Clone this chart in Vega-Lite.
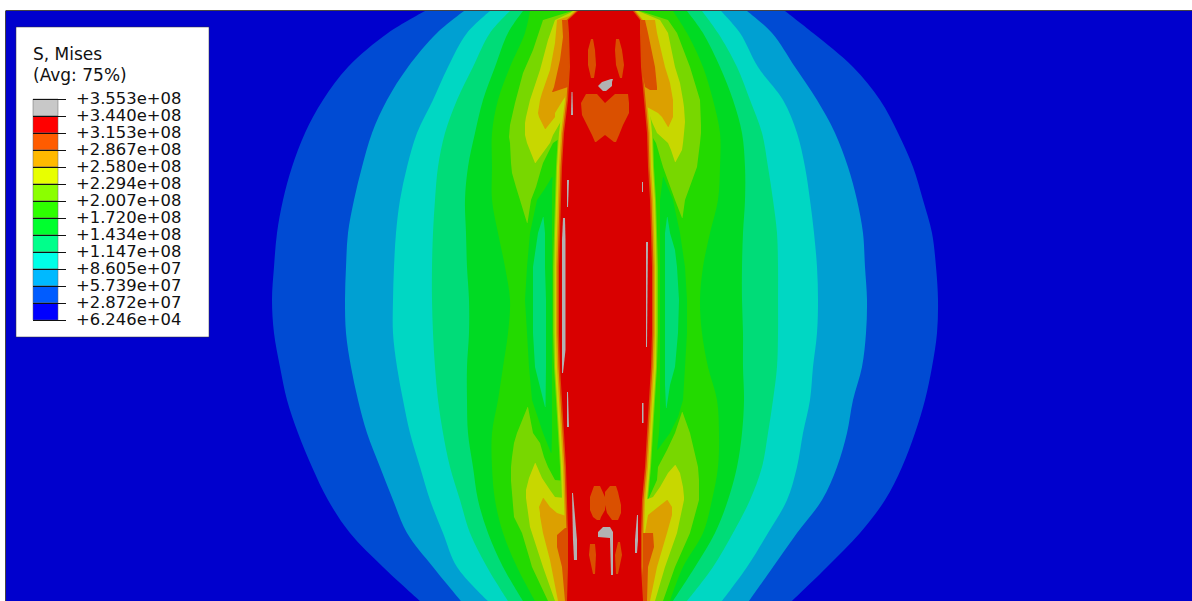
{"$schema":"https://vega.github.io/schema/vega-lite/v6.json","width":1192,"height":601,"padding":0,"autosize":{"type":"none"},"background":"#ffffff","view":{"stroke":null},
"resolve":{"scale":{"color":"independent"}},
"datasets":{"contours":[
{"s":"p","l":"p","y":11,"a":6,"b":1192},{"s":"p","l":"p","y":601,"a":6,"b":1192},
{"s":"c1","l":"1","y":11,"a":425,"b":785},{"s":"c1","l":"1","y":33,"a":388,"b":813},{"s":"c1","l":"1","y":67,"a":348,"b":853},{"s":"c1","l":"1","y":100,"a":323,"b":880},{"s":"c1","l":"1","y":133,"a":305,"b":898},{"s":"c1","l":"1","y":167,"a":292,"b":913},{"s":"c1","l":"1","y":200,"a":283,"b":923},{"s":"c1","l":"1","y":233,"a":277,"b":932},{"s":"c1","l":"1","y":267,"a":274,"b":936},{"s":"c1","l":"1","y":300,"a":272,"b":938},{"s":"c1","l":"1","y":333,"a":274,"b":937},{"s":"c1","l":"1","y":367,"a":280,"b":932},{"s":"c1","l":"1","y":400,"a":287,"b":925},{"s":"c1","l":"1","y":433,"a":298,"b":915},{"s":"c1","l":"1","y":467,"a":312,"b":902},{"s":"c1","l":"1","y":500,"a":328,"b":885},{"s":"c1","l":"1","y":533,"a":350,"b":860},{"s":"c1","l":"1","y":567,"a":383,"b":827},{"s":"c1","l":"1","y":601,"a":420,"b":792},
{"s":"c2","l":"2","y":11,"a":464,"b":747},{"s":"c2","l":"2","y":33,"a":437,"b":772},{"s":"c2","l":"2","y":67,"a":408,"b":795},{"s":"c2","l":"2","y":100,"a":387,"b":817},{"s":"c2","l":"2","y":133,"a":372,"b":835},{"s":"c2","l":"2","y":167,"a":362,"b":848},{"s":"c2","l":"2","y":200,"a":354,"b":857},{"s":"c2","l":"2","y":233,"a":348,"b":863},{"s":"c2","l":"2","y":267,"a":346,"b":865},{"s":"c2","l":"2","y":300,"a":345,"b":867},{"s":"c2","l":"2","y":333,"a":346,"b":866},{"s":"c2","l":"2","y":367,"a":351,"b":862},{"s":"c2","l":"2","y":400,"a":358,"b":853},{"s":"c2","l":"2","y":433,"a":367,"b":847},{"s":"c2","l":"2","y":467,"a":380,"b":837},{"s":"c2","l":"2","y":500,"a":393,"b":822},{"s":"c2","l":"2","y":533,"a":407,"b":797},{"s":"c2","l":"2","y":567,"a":433,"b":773},{"s":"c2","l":"2","y":601,"a":461,"b":749},
{"s":"c3","l":"3","y":11,"a":490,"b":721},{"s":"c3","l":"3","y":33,"a":467,"b":740},{"s":"c3","l":"3","y":67,"a":448,"b":758},{"s":"c3","l":"3","y":100,"a":433,"b":783},{"s":"c3","l":"3","y":133,"a":417,"b":797},{"s":"c3","l":"3","y":167,"a":407,"b":805},{"s":"c3","l":"3","y":200,"a":400,"b":810},{"s":"c3","l":"3","y":233,"a":396,"b":814},{"s":"c3","l":"3","y":267,"a":394,"b":817},{"s":"c3","l":"3","y":300,"a":393,"b":818},{"s":"c3","l":"3","y":333,"a":393,"b":817},{"s":"c3","l":"3","y":367,"a":397,"b":813},{"s":"c3","l":"3","y":400,"a":403,"b":810},{"s":"c3","l":"3","y":433,"a":410,"b":803},{"s":"c3","l":"3","y":467,"a":420,"b":797},{"s":"c3","l":"3","y":500,"a":430,"b":787},{"s":"c3","l":"3","y":533,"a":443,"b":768},{"s":"c3","l":"3","y":567,"a":457,"b":747},{"s":"c3","l":"3","y":601,"a":488,"b":722},
{"s":"c4","l":"4","y":11,"a":510,"b":702},{"s":"c4","l":"4","y":33,"a":490,"b":718},{"s":"c4","l":"4","y":67,"a":473,"b":737},{"s":"c4","l":"4","y":100,"a":457,"b":750},{"s":"c4","l":"4","y":133,"a":445,"b":762},{"s":"c4","l":"4","y":167,"a":438,"b":768},{"s":"c4","l":"4","y":200,"a":435,"b":773},{"s":"c4","l":"4","y":233,"a":433,"b":777},{"s":"c4","l":"4","y":267,"a":432,"b":778},{"s":"c4","l":"4","y":300,"a":432,"b":778},{"s":"c4","l":"4","y":333,"a":433,"b":778},{"s":"c4","l":"4","y":367,"a":435,"b":777},{"s":"c4","l":"4","y":400,"a":438,"b":773},{"s":"c4","l":"4","y":433,"a":443,"b":768},{"s":"c4","l":"4","y":467,"a":450,"b":762},{"s":"c4","l":"4","y":500,"a":460,"b":750},{"s":"c4","l":"4","y":533,"a":470,"b":733},{"s":"c4","l":"4","y":567,"a":487,"b":713},{"s":"c4","l":"4","y":601,"a":508,"b":687},
{"s":"c5","l":"5","y":11,"a":523,"b":687},{"s":"c5","l":"5","y":33,"a":508,"b":703},{"s":"c5","l":"5","y":67,"a":495,"b":720},{"s":"c5","l":"5","y":100,"a":483,"b":733},{"s":"c5","l":"5","y":133,"a":475,"b":742},{"s":"c5","l":"5","y":167,"a":468,"b":745},{"s":"c5","l":"5","y":200,"a":465,"b":745},{"s":"c5","l":"5","y":233,"a":466,"b":743},{"s":"c5","l":"5","y":267,"a":467,"b":742},{"s":"c5","l":"5","y":300,"a":469,"b":742},{"s":"c5","l":"5","y":333,"a":469,"b":743},{"s":"c5","l":"5","y":367,"a":467,"b":743},{"s":"c5","l":"5","y":400,"a":467,"b":744},{"s":"c5","l":"5","y":433,"a":468,"b":742},{"s":"c5","l":"5","y":467,"a":473,"b":737},{"s":"c5","l":"5","y":500,"a":478,"b":728},{"s":"c5","l":"5","y":533,"a":488,"b":715},{"s":"c5","l":"5","y":567,"a":503,"b":695},{"s":"c5","l":"5","y":601,"a":523,"b":673},
{"s":"c6","l":"6","y":11,"a":530,"b":673},{"s":"c6","l":"6","y":33,"a":525,"b":687},{"s":"c6","l":"6","y":67,"a":510,"b":703},{"s":"c6","l":"6","y":100,"a":498,"b":713},{"s":"c6","l":"6","y":133,"a":492,"b":720},{"s":"c6","l":"6","y":167,"a":492,"b":720},{"s":"c6","l":"6","y":200,"a":492,"b":718},{"s":"c6","l":"6","y":233,"a":498,"b":710},{"s":"c6","l":"6","y":267,"a":505,"b":703},{"s":"c6","l":"6","y":300,"a":510,"b":700},{"s":"c6","l":"6","y":333,"a":508,"b":702},{"s":"c6","l":"6","y":367,"a":503,"b":708},{"s":"c6","l":"6","y":400,"a":498,"b":717},{"s":"c6","l":"6","y":433,"a":492,"b":719},{"s":"c6","l":"6","y":467,"a":492,"b":718},{"s":"c6","l":"6","y":500,"a":495,"b":712},{"s":"c6","l":"6","y":533,"a":503,"b":703},{"s":"c6","l":"6","y":567,"a":517,"b":683},{"s":"c6","l":"6","y":601,"a":535,"b":670},
{"s":"pl5","l":"5","y":177,"a":552,"b":552.5},{"s":"pl5","l":"5","y":190,"a":544,"b":552},{"s":"pl5","l":"5","y":200,"a":537,"b":552},{"s":"pl5","l":"5","y":233,"a":530,"b":552},{"s":"pl5","l":"5","y":267,"a":527,"b":552},{"s":"pl5","l":"5","y":300,"a":525,"b":552},{"s":"pl5","l":"5","y":333,"a":527,"b":552},{"s":"pl5","l":"5","y":367,"a":529,"b":552},{"s":"pl5","l":"5","y":400,"a":532,"b":552},{"s":"pl5","l":"5","y":433,"a":543,"b":552},{"s":"pl5","l":"5","y":453,"a":551,"b":551.5},
{"s":"pl4","l":"4","y":217,"a":543,"b":543.5},{"s":"pl4","l":"4","y":233,"a":538,"b":545},{"s":"pl4","l":"4","y":267,"a":533,"b":545},{"s":"pl4","l":"4","y":300,"a":533,"b":546},{"s":"pl4","l":"4","y":333,"a":533,"b":546},{"s":"pl4","l":"4","y":367,"a":535,"b":546},{"s":"pl4","l":"4","y":407,"a":545,"b":545.5},
{"s":"pr5","l":"5","y":177,"a":663,"b":663.5},{"s":"pr5","l":"5","y":200,"a":660,"b":673},{"s":"pr5","l":"5","y":233,"a":660,"b":680},{"s":"pr5","l":"5","y":267,"a":660,"b":685},{"s":"pr5","l":"5","y":300,"a":660,"b":687},{"s":"pr5","l":"5","y":333,"a":660,"b":687},{"s":"pr5","l":"5","y":367,"a":660,"b":685},{"s":"pr5","l":"5","y":400,"a":660,"b":683},{"s":"pr5","l":"5","y":417,"a":660,"b":678},{"s":"pr5","l":"5","y":433,"a":659,"b":670},{"s":"pr5","l":"5","y":450,"a":657,"b":657.5},
{"s":"pr4","l":"4","y":217,"a":667,"b":667.5},{"s":"pr4","l":"4","y":233,"a":665,"b":670},{"s":"pr4","l":"4","y":250,"a":665,"b":675},{"s":"pr4","l":"4","y":267,"a":665,"b":677},{"s":"pr4","l":"4","y":300,"a":665,"b":679},{"s":"pr4","l":"4","y":333,"a":665,"b":678},{"s":"pr4","l":"4","y":367,"a":665,"b":675},{"s":"pr4","l":"4","y":385,"a":665,"b":670},{"s":"pr4","l":"4","y":408,"a":666,"b":666.5},
{"s":"t7l","l":"7","y":11,"a":572,"b":578},{"s":"t7l","l":"7","y":20,"a":543,"b":570},{"s":"t7l","l":"7","y":50,"a":533,"b":570},{"s":"t7l","l":"7","y":73,"a":523,"b":570},{"s":"t7l","l":"7","y":103,"a":515,"b":568},{"s":"t7l","l":"7","y":125,"a":510,"b":565},{"s":"t7l","l":"7","y":137,"a":509,"b":562},{"s":"t7l","l":"7","y":143,"a":510,"b":553},{"s":"t7l","l":"7","y":163,"a":511,"b":543},{"s":"t7l","l":"7","y":173,"a":512,"b":540},{"s":"t7l","l":"7","y":187,"a":516,"b":536},{"s":"t7l","l":"7","y":200,"a":520,"b":531},{"s":"t7l","l":"7","y":223,"a":527,"b":527.5},
{"s":"t7r","l":"7","y":11,"a":633,"b":640},{"s":"t7r","l":"7","y":20,"a":640,"b":668},{"s":"t7r","l":"7","y":33,"a":640,"b":677},{"s":"t7r","l":"7","y":67,"a":640,"b":690},{"s":"t7r","l":"7","y":100,"a":645,"b":700},{"s":"t7r","l":"7","y":125,"a":648,"b":701},{"s":"t7r","l":"7","y":133,"a":650,"b":701},{"s":"t7r","l":"7","y":143,"a":656,"b":700},{"s":"t7r","l":"7","y":167,"a":663,"b":697},{"s":"t7r","l":"7","y":200,"a":675,"b":685},{"s":"t7r","l":"7","y":218,"a":682,"b":682.5},
{"s":"b7l","l":"7","y":407,"a":527.5,"b":528},{"s":"b7l","l":"7","y":433,"a":517,"b":533},{"s":"b7l","l":"7","y":443,"a":514,"b":540},{"s":"b7l","l":"7","y":457,"a":512,"b":544},{"s":"b7l","l":"7","y":467,"a":511,"b":548},{"s":"b7l","l":"7","y":480,"a":511,"b":555},{"s":"b7l","l":"7","y":481,"a":511,"b":566},{"s":"b7l","l":"7","y":517,"a":514,"b":566},{"s":"b7l","l":"7","y":533,"a":522,"b":566},{"s":"b7l","l":"7","y":560,"a":530,"b":566},{"s":"b7l","l":"7","y":567,"a":532,"b":566},{"s":"b7l","l":"7","y":601,"a":548,"b":566},
{"s":"b7r","l":"7","y":412,"a":682,"b":682.5},{"s":"b7r","l":"7","y":433,"a":675,"b":690},{"s":"b7r","l":"7","y":450,"a":667,"b":694},{"s":"b7r","l":"7","y":467,"a":658,"b":698},{"s":"b7r","l":"7","y":480,"a":657,"b":699},{"s":"b7r","l":"7","y":500,"a":648,"b":699},{"s":"b7r","l":"7","y":533,"a":645,"b":690},{"s":"b7r","l":"7","y":567,"a":645,"b":675},{"s":"b7r","l":"7","y":601,"a":645,"b":663},
{"s":"h7","l":"7","y":11,"a":572,"b":639},{"s":"h7","l":"7","y":20,"a":562,"b":646},{"s":"h7","l":"7","y":33,"a":563,"b":646},{"s":"h7","l":"7","y":67,"a":564,"b":647},{"s":"h7","l":"7","y":100,"a":562,"b":650},{"s":"h7","l":"7","y":133,"a":558,"b":653},{"s":"h7","l":"7","y":167,"a":556,"b":654},{"s":"h7","l":"7","y":200,"a":555,"b":656},{"s":"h7","l":"7","y":233,"a":554,"b":657},{"s":"h7","l":"7","y":267,"a":553,"b":658},{"s":"h7","l":"7","y":300,"a":553,"b":658},{"s":"h7","l":"7","y":333,"a":553,"b":658},{"s":"h7","l":"7","y":367,"a":554,"b":657},{"s":"h7","l":"7","y":400,"a":556,"b":655},{"s":"h7","l":"7","y":433,"a":558,"b":653},{"s":"h7","l":"7","y":467,"a":560,"b":651},{"s":"h7","l":"7","y":500,"a":561,"b":648},{"s":"h7","l":"7","y":533,"a":562,"b":647},{"s":"h7","l":"7","y":567,"a":562,"b":647},{"s":"h7","l":"7","y":601,"a":561,"b":649},
{"s":"t8l","l":"8","y":11,"a":574,"b":578},{"s":"t8l","l":"8","y":20,"a":555,"b":570},{"s":"t8l","l":"8","y":40,"a":548,"b":570},{"s":"t8l","l":"8","y":70,"a":540,"b":570},{"s":"t8l","l":"8","y":100,"a":530,"b":568},{"s":"t8l","l":"8","y":117,"a":526,"b":565},{"s":"t8l","l":"8","y":123,"a":525,"b":560},{"s":"t8l","l":"8","y":135,"a":525,"b":553},{"s":"t8l","l":"8","y":143,"a":527,"b":550},{"s":"t8l","l":"8","y":163,"a":535,"b":535.5},
{"s":"t8r","l":"8","y":11,"a":633,"b":638},{"s":"t8r","l":"8","y":20,"a":640,"b":660},{"s":"t8r","l":"8","y":33,"a":640,"b":668},{"s":"t8r","l":"8","y":67,"a":641,"b":675},{"s":"t8r","l":"8","y":83,"a":641,"b":680},{"s":"t8r","l":"8","y":100,"a":644,"b":683},{"s":"t8r","l":"8","y":107,"a":647,"b":684},{"s":"t8r","l":"8","y":122,"a":652,"b":685},{"s":"t8r","l":"8","y":133,"a":657,"b":684},{"s":"t8r","l":"8","y":143,"a":668,"b":683},{"s":"t8r","l":"8","y":150,"a":671,"b":682},{"s":"t8r","l":"8","y":162,"a":675,"b":675.5},
{"s":"b8l","l":"8","y":463,"a":535,"b":535.5},{"s":"b8l","l":"8","y":478,"a":529,"b":542},{"s":"b8l","l":"8","y":490,"a":526,"b":550},{"s":"b8l","l":"8","y":497,"a":526,"b":555},{"s":"b8l","l":"8","y":498,"a":526,"b":565},{"s":"b8l","l":"8","y":527,"a":530,"b":566},{"s":"b8l","l":"8","y":567,"a":543,"b":566},{"s":"b8l","l":"8","y":601,"a":555,"b":566},
{"s":"b8r","l":"8","y":465,"a":675,"b":675.5},{"s":"b8r","l":"8","y":473,"a":668,"b":680},{"s":"b8r","l":"8","y":487,"a":660,"b":683},{"s":"b8r","l":"8","y":497,"a":653,"b":684},{"s":"b8r","l":"8","y":500,"a":645,"b":684},{"s":"b8r","l":"8","y":533,"a":645,"b":677},{"s":"b8r","l":"8","y":567,"a":645,"b":665},{"s":"b8r","l":"8","y":601,"a":645,"b":655},
{"s":"h8","l":"8","y":11,"a":573,"b":638},{"s":"h8","l":"8","y":20,"a":563,"b":645},{"s":"h8","l":"8","y":33,"a":564,"b":645},{"s":"h8","l":"8","y":67,"a":565,"b":646},{"s":"h8","l":"8","y":100,"a":563,"b":649},{"s":"h8","l":"8","y":133,"a":559,"b":652},{"s":"h8","l":"8","y":167,"a":557,"b":653},{"s":"h8","l":"8","y":200,"a":556,"b":655},{"s":"h8","l":"8","y":233,"a":555,"b":656},{"s":"h8","l":"8","y":267,"a":554.5,"b":656.5},{"s":"h8","l":"8","y":300,"a":554.5,"b":656.5},{"s":"h8","l":"8","y":333,"a":554.5,"b":656.5},{"s":"h8","l":"8","y":367,"a":555,"b":656},{"s":"h8","l":"8","y":400,"a":557,"b":654},{"s":"h8","l":"8","y":433,"a":559,"b":652},{"s":"h8","l":"8","y":467,"a":561,"b":650},{"s":"h8","l":"8","y":500,"a":562,"b":647},{"s":"h8","l":"8","y":533,"a":563,"b":646},{"s":"h8","l":"8","y":567,"a":563,"b":646},{"s":"h8","l":"8","y":601,"a":562,"b":648},
{"s":"t9l","l":"9","y":14,"a":576,"b":578},{"s":"t9l","l":"9","y":20,"a":557,"b":570},{"s":"t9l","l":"9","y":43,"a":555,"b":570},{"s":"t9l","l":"9","y":70,"a":550,"b":570},{"s":"t9l","l":"9","y":93,"a":542,"b":568},{"s":"t9l","l":"9","y":100,"a":540,"b":563},{"s":"t9l","l":"9","y":113,"a":538,"b":555},{"s":"t9l","l":"9","y":117,"a":539,"b":555},{"s":"t9l","l":"9","y":129,"a":545,"b":545.5},
{"s":"t9r","l":"9","y":20,"a":640,"b":655},{"s":"t9r","l":"9","y":33,"a":640,"b":657},{"s":"t9r","l":"9","y":67,"a":641,"b":665},{"s":"t9r","l":"9","y":83,"a":641,"b":670},{"s":"t9r","l":"9","y":100,"a":644,"b":673},{"s":"t9r","l":"9","y":107,"a":647,"b":673},{"s":"t9r","l":"9","y":113,"a":658,"b":673},{"s":"t9r","l":"9","y":117,"a":662,"b":673},{"s":"t9r","l":"9","y":127,"a":668,"b":668.5},
{"s":"b9l","l":"9","y":498,"a":543,"b":543.5},{"s":"b9l","l":"9","y":507,"a":539,"b":550},{"s":"b9l","l":"9","y":513,"a":540,"b":557},{"s":"b9l","l":"9","y":516,"a":540,"b":566},{"s":"b9l","l":"9","y":533,"a":543,"b":567},{"s":"b9l","l":"9","y":560,"a":550,"b":567},{"s":"b9l","l":"9","y":601,"a":558,"b":566},
{"s":"b9r","l":"9","y":500,"a":667,"b":667.5},{"s":"b9r","l":"9","y":507,"a":658,"b":672},{"s":"b9r","l":"9","y":515,"a":648,"b":672},{"s":"b9r","l":"9","y":533,"a":645,"b":667},{"s":"b9r","l":"9","y":567,"a":645,"b":657},{"s":"b9r","l":"9","y":601,"a":645,"b":650},
{"s":"h9","l":"9","y":11,"a":575,"b":636},{"s":"h9","l":"9","y":20,"a":565,"b":643},{"s":"h9","l":"9","y":33,"a":566,"b":643},{"s":"h9","l":"9","y":67,"a":567,"b":644},{"s":"h9","l":"9","y":100,"a":565,"b":647},{"s":"h9","l":"9","y":133,"a":561,"b":650},{"s":"h9","l":"9","y":167,"a":559,"b":651},{"s":"h9","l":"9","y":200,"a":558,"b":653},{"s":"h9","l":"9","y":233,"a":557,"b":654},{"s":"h9","l":"9","y":267,"a":556,"b":655},{"s":"h9","l":"9","y":300,"a":556,"b":655},{"s":"h9","l":"9","y":333,"a":556,"b":655},{"s":"h9","l":"9","y":367,"a":557,"b":654},{"s":"h9","l":"9","y":400,"a":559,"b":652},{"s":"h9","l":"9","y":433,"a":561,"b":650},{"s":"h9","l":"9","y":467,"a":563,"b":648},{"s":"h9","l":"9","y":500,"a":564,"b":645},{"s":"h9","l":"9","y":533,"a":565,"b":644},{"s":"h9","l":"9","y":567,"a":565,"b":644},{"s":"h9","l":"9","y":601,"a":564,"b":646},
{"s":"t10l","l":"10","y":20,"a":562,"b":570},{"s":"t10l","l":"10","y":37,"a":563,"b":570},{"s":"t10l","l":"10","y":60,"a":560,"b":570},{"s":"t10l","l":"10","y":87,"a":554,"b":568},{"s":"t10l","l":"10","y":92,"a":552,"b":553},
{"s":"t10r","l":"10","y":20,"a":640,"b":645},{"s":"t10r","l":"10","y":33,"a":640,"b":648},{"s":"t10r","l":"10","y":67,"a":641,"b":655},{"s":"t10r","l":"10","y":87,"a":645,"b":657},{"s":"t10r","l":"10","y":90,"a":650,"b":657},
{"s":"b10l","l":"10","y":528,"a":565,"b":568},{"s":"b10l","l":"10","y":535,"a":557,"b":567},{"s":"b10l","l":"10","y":547,"a":557,"b":567},{"s":"b10l","l":"10","y":567,"a":562,"b":568},{"s":"b10l","l":"10","y":601,"a":565,"b":567},
{"s":"b10r","l":"10","y":533,"a":643,"b":653},{"s":"b10r","l":"10","y":547,"a":643,"b":654},{"s":"b10r","l":"10","y":567,"a":643,"b":648},{"s":"b10r","l":"10","y":601,"a":643,"b":647},
{"s":"h10","l":"10","y":11,"a":576.5,"b":634.5},{"s":"h10","l":"10","y":20,"a":566.5,"b":641.5},{"s":"h10","l":"10","y":33,"a":567.5,"b":641.5},{"s":"h10","l":"10","y":67,"a":568.5,"b":642.5},{"s":"h10","l":"10","y":100,"a":566.5,"b":645.5},{"s":"h10","l":"10","y":133,"a":562.5,"b":648.5},{"s":"h10","l":"10","y":167,"a":560.5,"b":649.5},{"s":"h10","l":"10","y":200,"a":559.5,"b":651.5},{"s":"h10","l":"10","y":233,"a":558.5,"b":652.5},{"s":"h10","l":"10","y":267,"a":557.5,"b":653.5},{"s":"h10","l":"10","y":300,"a":557.5,"b":653.5},{"s":"h10","l":"10","y":333,"a":557.5,"b":653.5},{"s":"h10","l":"10","y":367,"a":558.5,"b":652.5},{"s":"h10","l":"10","y":400,"a":560.5,"b":650.5},{"s":"h10","l":"10","y":433,"a":562.5,"b":648.5},{"s":"h10","l":"10","y":467,"a":564.5,"b":646.5},{"s":"h10","l":"10","y":500,"a":565.5,"b":643.5},{"s":"h10","l":"10","y":533,"a":566.5,"b":642.5},{"s":"h10","l":"10","y":567,"a":566.5,"b":642.5},{"s":"h10","l":"10","y":601,"a":565.5,"b":644.5},
{"s":"r","l":"11","y":11,"a":578,"b":633},{"s":"r","l":"11","y":20,"a":568,"b":640},{"s":"r","l":"11","y":33,"a":569,"b":640},{"s":"r","l":"11","y":67,"a":570,"b":641},{"s":"r","l":"11","y":100,"a":568,"b":644},{"s":"r","l":"11","y":133,"a":564,"b":647},{"s":"r","l":"11","y":167,"a":562,"b":648},{"s":"r","l":"11","y":200,"a":561,"b":650},{"s":"r","l":"11","y":233,"a":560,"b":651},{"s":"r","l":"11","y":267,"a":559,"b":652},{"s":"r","l":"11","y":300,"a":559,"b":652},{"s":"r","l":"11","y":333,"a":559,"b":652},{"s":"r","l":"11","y":367,"a":560,"b":651},{"s":"r","l":"11","y":400,"a":562,"b":649},{"s":"r","l":"11","y":433,"a":564,"b":647},{"s":"r","l":"11","y":467,"a":566,"b":645},{"s":"r","l":"11","y":500,"a":567,"b":642},{"s":"r","l":"11","y":533,"a":568,"b":641},{"s":"r","l":"11","y":567,"a":568,"b":641},{"s":"r","l":"11","y":601,"a":567,"b":643},
{"s":"i1","l":"10","y":39,"a":591,"b":593},{"s":"i1","l":"10","y":50,"a":588,"b":595},{"s":"i1","l":"10","y":65,"a":588,"b":596},{"s":"i1","l":"10","y":78,"a":591,"b":594},
{"s":"i2","l":"10","y":39,"a":616,"b":619},{"s":"i2","l":"10","y":50,"a":615,"b":622},{"s":"i2","l":"10","y":65,"a":616,"b":624},{"s":"i2","l":"10","y":78,"a":620,"b":622},
{"s":"i3","l":"10","y":94,"a":586,"b":597},{"s":"i3","l":"10","y":103,"a":581,"b":605},{"s":"i3","l":"10","y":115,"a":582,"b":605},{"s":"i3","l":"10","y":125,"a":587,"b":605},{"s":"i3","l":"10","y":135,"a":592,"b":605},{"s":"i3","l":"10","y":142,"a":595,"b":596},
{"s":"i4","l":"10","y":94,"a":615,"b":628},{"s":"i4","l":"10","y":103,"a":605,"b":629},{"s":"i4","l":"10","y":113,"a":605,"b":629},{"s":"i4","l":"10","y":125,"a":605,"b":623},{"s":"i4","l":"10","y":135,"a":605,"b":619},{"s":"i4","l":"10","y":142,"a":614,"b":616},
{"s":"i5","l":"10","y":486,"a":594,"b":600},{"s":"i5","l":"10","y":497,"a":590,"b":605},{"s":"i5","l":"10","y":510,"a":590,"b":605},{"s":"i5","l":"10","y":517,"a":593,"b":601},{"s":"i5","l":"10","y":520,"a":597,"b":600},
{"s":"i6","l":"10","y":486,"a":610,"b":616},{"s":"i6","l":"10","y":492,"a":605,"b":618},{"s":"i6","l":"10","y":505,"a":605,"b":621},{"s":"i6","l":"10","y":513,"a":607,"b":621},{"s":"i6","l":"10","y":520,"a":612,"b":618},
{"s":"i7","l":"10","y":544,"a":590,"b":595},{"s":"i7","l":"10","y":555,"a":589,"b":596},{"s":"i7","l":"10","y":574,"a":593,"b":595},
{"s":"i8","l":"10","y":542,"a":618,"b":620},{"s":"i8","l":"10","y":555,"a":615,"b":622},{"s":"i8","l":"10","y":574,"a":616,"b":618},
{"s":"g1","l":"12","y":79,"a":611,"b":613},{"s":"g1","l":"12","y":82,"a":602,"b":612},{"s":"g1","l":"12","y":86,"a":598,"b":612},{"s":"g1","l":"12","y":91,"a":603,"b":606},
{"s":"g2","l":"12","y":92,"a":571.5,"b":572.5},{"s":"g2","l":"12","y":115,"a":571,"b":573},
{"s":"g3","l":"12","y":180,"a":567,"b":569},{"s":"g3","l":"12","y":207,"a":567,"b":568},
{"s":"g4","l":"12","y":182,"a":642,"b":643},{"s":"g4","l":"12","y":192,"a":642,"b":643},
{"s":"g5","l":"12","y":218,"a":563,"b":565},{"s":"g5","l":"12","y":240,"a":562,"b":565.5},{"s":"g5","l":"12","y":350,"a":562,"b":565.5},{"s":"g5","l":"12","y":373,"a":562,"b":563},
{"s":"g6","l":"12","y":242,"a":646,"b":648},{"s":"g6","l":"12","y":347,"a":646,"b":647},
{"s":"g7","l":"12","y":392,"a":567,"b":568},{"s":"g7","l":"12","y":427,"a":567,"b":569},
{"s":"g8","l":"12","y":403,"a":642,"b":643.5},{"s":"g8","l":"12","y":423,"a":642,"b":643.5},
{"s":"g9","l":"12","y":493,"a":572,"b":573},{"s":"g9","l":"12","y":540,"a":573,"b":577},{"s":"g9","l":"12","y":560,"a":574,"b":577},
{"s":"g10","l":"12","y":515,"a":637,"b":638},{"s":"g10","l":"12","y":540,"a":635,"b":638},{"s":"g10","l":"12","y":553,"a":635,"b":637},
{"s":"g11","l":"12","y":527,"a":603,"b":610},{"s":"g11","l":"12","y":532,"a":598,"b":613},{"s":"g11","l":"12","y":537,"a":598,"b":613},{"s":"g11","l":"12","y":538,"a":610,"b":613},{"s":"g11","l":"12","y":575,"a":611,"b":613}
]},
"layer":[
{"data":{"name":"contours"},"transform":[{"filter":"indexof(['p','c1','c2','c3','c4','c5','c6'],datum.s)>=0"}],
"mark":{"type":"area","orient":"horizontal","interpolate":"catmull-rom"},
"encoding":{
"y":{"field":"y","type":"quantitative","scale":{"domain":[0,601],"reverse":true,"nice":false,"zero":false},"axis":null},
"x":{"field":"a","type":"quantitative","scale":{"domain":[0,1192],"nice":false,"zero":false},"axis":null},
"x2":{"field":"b"},
"detail":{"field":"s"},
"color":{"field":"l","type":"nominal","legend":null,"scale":{"domain":["p","1","2","3","4","5","6","7","8","9","10","11","12"],"range":["#0000CD","#004BD3","#00A0D2","#00D7C3","#00DC78","#00DA23","#23DA00","#78D700","#C8D700","#DCA000","#DA5000","#D90000","#B2B2B2"]}}
}},
{"data":{"name":"contours"},"transform":[{"filter":"indexof(['p','c1','c2','c3','c4','c5','c6'],datum.s)<0"}],
"mark":{"type":"area","orient":"horizontal","interpolate":"linear"},
"encoding":{
"y":{"field":"y","type":"quantitative"},
"x":{"field":"a","type":"quantitative"},
"x2":{"field":"b"},
"detail":{"field":"s"},
"color":{"field":"l","type":"nominal","legend":null,"scale":{"domain":["p","1","2","3","4","5","6","7","8","9","10","11","12"],"range":["#0000CD","#004BD3","#00A0D2","#00D7C3","#00DC78","#00DA23","#23DA00","#78D700","#C8D700","#DCA000","#DA5000","#D90000","#B2B2B2"]}}
}},
{"data":{"values":[{"x":6,"x2":1192,"y":10.5,"y2":10.5},{"x":5.5,"x2":5.5,"y":10.5,"y2":601}]},
"mark":{"type":"rule","stroke":"#444444","strokeWidth":1},
"encoding":{"x":{"field":"x","type":"quantitative"},"x2":{"field":"x2"},"y":{"field":"y","type":"quantitative"},"y2":{"field":"y2"}}},
{"data":{"values":[{"x":16,"x2":209,"y":27,"y2":337}]},
"mark":{"type":"rect","fill":"#ffffff","stroke":"#333333","strokeWidth":0.5},
"encoding":{"x":{"field":"x","type":"quantitative"},"x2":{"field":"x2"},"y":{"field":"y","type":"quantitative"},"y2":{"field":"y2"}}},
{"data":{"values":[
{"k":"12","x":33,"x2":58,"y":99,"y2":116},{"k":"11","x":33,"x2":58,"y":116,"y2":133},{"k":"10","x":33,"x2":58,"y":133,"y2":150},{"k":"9","x":33,"x2":58,"y":150,"y2":167},{"k":"8","x":33,"x2":58,"y":167,"y2":184},{"k":"7","x":33,"x2":58,"y":184,"y2":201},{"k":"6","x":33,"x2":58,"y":201,"y2":218},{"k":"5","x":33,"x2":58,"y":218,"y2":235},{"k":"4","x":33,"x2":58,"y":235,"y2":252},{"k":"3","x":33,"x2":58,"y":252,"y2":269},{"k":"2","x":33,"x2":58,"y":269,"y2":286},{"k":"1","x":33,"x2":58,"y":286,"y2":303},{"k":"0","x":33,"x2":58,"y":303,"y2":320}
]},
"mark":{"type":"rect","stroke":"#666666","strokeWidth":0.5},
"encoding":{"x":{"field":"x","type":"quantitative"},"x2":{"field":"x2"},"y":{"field":"y","type":"quantitative"},"y2":{"field":"y2"},
"color":{"field":"k","type":"nominal","legend":null,"scale":{"domain":["0","1","2","3","4","5","6","7","8","9","10","11","12"],"range":["#0000FF","#005CFF","#00B9FF","#00FFE8","#00FF8B","#00FF2E","#2EFF00","#8BFF00","#E8FF00","#FFB900","#FF5C00","#FF0000","#C8C8C8"]}}}},
{"data":{"values":[
{"t":"+3.553e+08","y":99.5},{"t":"+3.440e+08","y":116.5},{"t":"+3.153e+08","y":133.5},{"t":"+2.867e+08","y":150.5},{"t":"+2.580e+08","y":167.5},{"t":"+2.294e+08","y":184.5},{"t":"+2.007e+08","y":201.5},{"t":"+1.720e+08","y":218.5},{"t":"+1.434e+08","y":235.5},{"t":"+1.147e+08","y":252.5},{"t":"+8.605e+07","y":269.5},{"t":"+5.739e+07","y":286.5},{"t":"+2.872e+07","y":303.5},{"t":"+6.246e+04","y":320.5}
]},
"layer":[
{"mark":{"type":"rule","stroke":"#111111","strokeWidth":1},"encoding":{"x":{"datum":33,"type":"quantitative"},"x2":{"datum":66},"y":{"field":"y","type":"quantitative"}}},
{"mark":{"type":"text","align":"left","baseline":"middle","font":"DejaVu Sans","fontSize":16.4,"fill":"#111111","dy":-1},"encoding":{"x":{"datum":76,"type":"quantitative"},"y":{"field":"y","type":"quantitative"},"text":{"field":"t"}}}
]},
{"data":{"values":[{"t":"S, Mises","y":55},{"t":"(Avg: 75%)","y":76}]},
"mark":{"type":"text","align":"left","baseline":"middle","font":"DejaVu Sans","fontSize":17,"fill":"#111111"},
"encoding":{"x":{"datum":33,"type":"quantitative"},"y":{"field":"y","type":"quantitative"},"text":{"field":"t"}}}
]}
